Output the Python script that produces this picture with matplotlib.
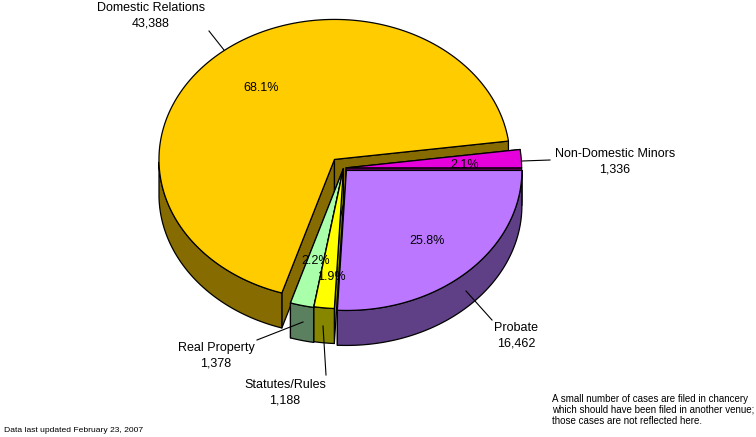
import numpy as np
from matplotlib import pyplot as plt
from matplotlib.patches import Polygon

# Chart data
categories = ["Domestic Relations", "Non-Domestic Minors", "Probate", "Statutes/Rules", "Real Property"]
cases      = [43388, 1336, 16462, 1188, 1378]

# Slice styles, same order as categories
explode     = [0.08, 0.015, 0.024, 0.005, 0.01]
top_colors  = ["#FFCC00", "#E600DC", "#BB77FF", "#FFFF00", "#AAFFAA"]
side_colors = ["#866B00", "#7A0075", "#5F3F85", "#868600", "#5A8060"]
draw_order  = [0, 1, 4, 3, 2]

# Pie geometry, pixels
CX, CY      = 343.5, 168
RX, RY      = 175.5, 140
DEPTH       = 35
FIRST_ANGLE = 252.55

plt.rcParams["font.family"] = ["Liberation Sans", "DejaVu Sans"]

fig = plt.figure(figsize=(7.56, 4.37), dpi=100)
ax = fig.add_axes([0, 0, 1, 1])
ax.set_xlim(0, 756)
ax.set_ylim(437, 0)
ax.axis("off")


def rim(cx, cy, angles, dy=0):
    t = np.radians(angles)
    return np.column_stack((cx + RX*np.cos(t), cy - RY*np.sin(t) + dy))


def face(points, color):
    ax.add_patch(Polygon(points, closed=True, facecolor=color, edgecolor="black",
                         linewidth=0.9, joinstyle="round"))


total  = sum(cases)
sweeps = [360*v/total for v in cases]
starts = FIRST_ANGLE - np.concatenate(([0], np.cumsum(sweeps)[:-1]))

for i in draw_order:
    a1  = starts[i]
    a2  = a1 - sweeps[i]
    mid = np.radians((a1 + a2)/2)
    cx  = CX + explode[i]*RX*np.cos(mid)
    cy  = CY - explode[i]*RY*np.sin(mid)
    angles = np.linspace(a1, a2, 200)
    arc = rim(cx, cy, angles)

    # Radial cut faces first
    for end in (arc[0], arc[-1]):
        quad = [(cx, cy), end, end + (0, DEPTH), (cx, cy + DEPTH)]
        face(quad, side_colors[i])

    # Outer wall, only the part of the rim facing the viewer
    front = angles[np.sin(np.radians(angles)) <= 1e-9]
    if len(front) > 1:
        face(np.vstack((rim(cx, cy, front), rim(cx, cy, front[::-1], DEPTH))), side_colors[i])

    # Top
    face(np.vstack(([(cx, cy)], arc)), top_colors[i])

# Percent labels
pct_pos = [(261, 88), (465, 165), (427, 241), (331, 277), (316, 261)]
for v, pos in zip(cases, pct_pos):
    ax.text(pos[0], pos[1], "{:.1%}".format(v/total), fontsize=9, color="black",
            ha="center", va="center")

# Category labels and leader lines
label_pos = [(151, 16), (615, 161.5), (516, 335.5), (285, 393), (216, 355.5)]
leaders   = [((209, 31), (224, 50)), ((522, 161), (550, 160)), ((466, 291), (492, 320)),
             ((323, 326), (326, 375)), ((303, 322), (257, 340))]
for name, v, pos, line in zip(categories, cases, label_pos, leaders):
    ax.text(pos[0], pos[1], "{}\n{:,}".format(name, v), fontsize=9, color="black",
            ha="center", va="center", linespacing=1.35)
    ax.plot([line[0][0], line[1][0]], [line[0][1], line[1][1]], color="black", linewidth=0.8)

# Notes
ax.text(552, 410, "A small number of cases are filed in chancery\n"
        "which should have been filed in another venue;\n"
        "those cases are not reflected here.",
        fontsize=7, ha="left", va="center", linespacing=1.15)
ax.text(4, 430, "Data last updated February 23, 2007", fontsize=6.1, ha="left", va="center")

fig.savefig("out.png", dpi=100)
